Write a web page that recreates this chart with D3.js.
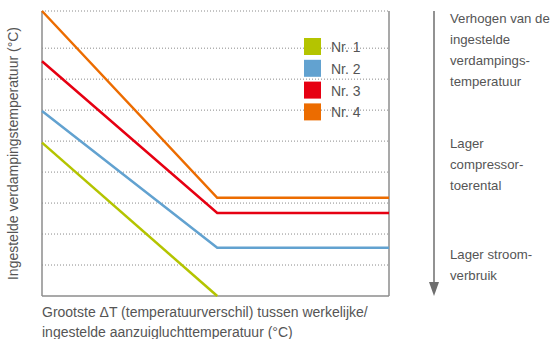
<!DOCTYPE html>
<html>
<head>
<meta charset="utf-8">
<script src="https://cdn.jsdelivr.net/npm/d3@7"></script>
<style>
  body { margin: 0; background: #fff; }
  svg text { font-family: "Liberation Sans Narrow", "Liberation Sans", sans-serif; fill: #555; }
</style>
</head>
<body>
<div id="chart"></div>
<script>
// series: start value at x=0, knee at x=kneeX, then flat (green reaches 0)
const seriesNames = ['Nr. 1', 'Nr. 2', 'Nr. 3', 'Nr. 4'];
const seriesColors = ['#b4c400', '#62a2d0', '#e60012', '#ec6c00'];
const startValues = [4.95, 5.97, 7.58, 9.2];
const kneeValues = [0, 1.56, 2.68, 3.17];
const kneeX = 5.05;
const endX = 10;
const gridValues = [1, 2, 3, 4, 5, 6, 7, 8];

const sideNotes = [
  { y: 18, lines: ['Verhogen van de', 'ingestelde', 'verdampings-', 'temperatuur'] },
  { y: 143, lines: ['Lager', 'compressor-', 'toerental'] },
  { y: 254, lines: ['Lager stroom-', 'verbruik'] }
];

const width = 554, height = 339;
const margin = { top: 11, right: 165, bottom: 43, left: 42 };

const svg = d3.select('#chart').append('svg')
  .attr('width', width)
  .attr('height', height);

const x = d3.scaleLinear().domain([0, endX]).range([margin.left, width - margin.right]);
const y = d3.scaleLinear().domain([0, 9.2]).range([height - margin.bottom, margin.top]);

// dotted grid
svg.append('g')
  .selectAll('line')
  .data(gridValues.concat([9.2]))
  .enter().append('line')
  .attr('x1', x(0)).attr('x2', x(endX))
  .attr('y1', d => y(d)).attr('y2', d => y(d))
  .attr('stroke', '#8a8a8a')
  .attr('stroke-width', 1)
  .attr('stroke-dasharray', '1,2');

// frame: left, bottom, right
const frame = svg.append('g')
  .attr('stroke', '#8c8c8c')
  .attr('stroke-width', 1.5);
frame.append('line').attr('x1', x(0)).attr('x2', x(0)).attr('y1', y(9.2)).attr('y2', y(0));
frame.append('line').attr('x1', x(0)).attr('x2', x(endX)).attr('y1', y(0)).attr('y2', y(0));
frame.append('line').attr('x1', x(endX)).attr('x2', x(endX)).attr('y1', y(9.2)).attr('y2', y(0));

// lines
const line = d3.line().x(d => x(d[0])).y(d => y(d[1]));
seriesNames.forEach((name, i) => {
  const pts = [[0, startValues[i]], [kneeX, kneeValues[i]]];
  if (kneeValues[i] > 0) pts.push([endX, kneeValues[i]]);
  svg.append('path')
    .datum(pts)
    .attr('d', line)
    .attr('fill', 'none')
    .attr('stroke', seriesColors[i])
    .attr('stroke-width', 2.5);
});

// legend
const legend = svg.append('g')
  .attr('transform', 'translate(304,38)');
const item = legend.selectAll('g')
  .data(seriesNames)
  .enter().append('g')
  .attr('transform', (d, i) => `translate(0,${i * 21.8})`);
item.append('rect')
  .attr('width', 17).attr('height', 17)
  .attr('fill', (d, i) => seriesColors[i]);
item.append('text')
  .attr('x', 27).attr('y', 9)
  .attr('dy', '0.36em')
  .attr('font-size', 14)
  .text(d => d);

// y label
svg.append('text')
  .attr('transform', `translate(18,${(y(0) + y(9.2)) / 2}) rotate(-90)`)
  .attr('text-anchor', 'middle')
  .attr('font-size', 14)
  .text('Ingestelde verdampingstemperatuur (°C)');

// x label
const xl = svg.append('text')
  .attr('x', x(0))
  .attr('y', 317)
  .attr('font-size', 14);
xl.append('tspan').attr('x', x(0)).text('Grootste \u0394T (temperatuurverschil) tussen werkelijke/');
xl.append('tspan').attr('x', x(0)).attr('dy', 20).text('ingestelde aanzuigluchttemperatuur (°C)');

// arrow on the right
const ax = 434;
svg.append('line')
  .attr('x1', ax).attr('x2', ax)
  .attr('y1', 11).attr('y2', 283)
  .attr('stroke', '#6e6e6e')
  .attr('stroke-width', 1.5);
svg.append('path')
  .attr('d', `M${ax - 5},282 L${ax + 5},282 L${ax},296 Z`)
  .attr('fill', '#6e6e6e');

// side notes
sideNotes.forEach(n => {
  const t = svg.append('text')
    .attr('x', 450)
    .attr('y', n.y)
    .attr('dy', '0.36em')
    .attr('font-size', 13.2);
  n.lines.forEach((s, i) => {
    t.append('tspan').attr('x', 450).attr('dy', i === 0 ? '0.36em' : 21).text(s);
  });
});
</script>
</body>
</html>
